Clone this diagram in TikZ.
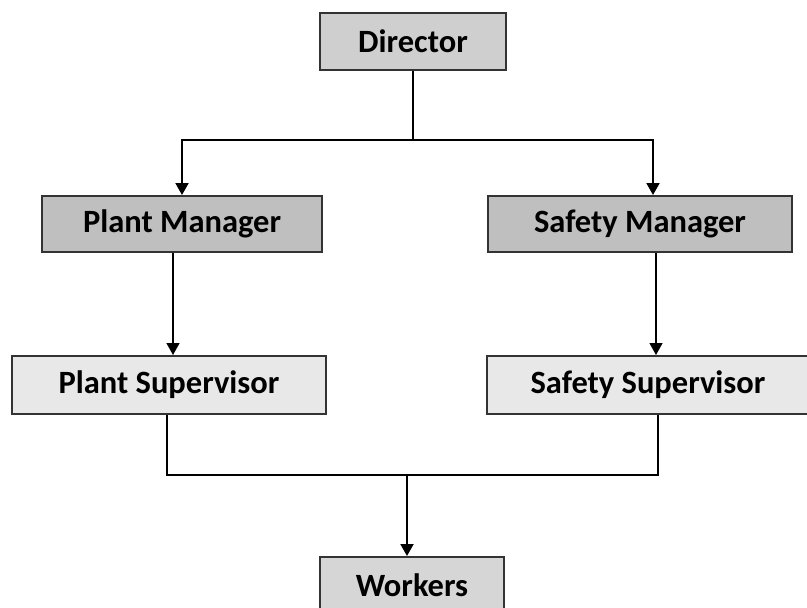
\documentclass[tikz,border=0pt]{standalone}
\usepackage{fontspec}
\setmainfont{Carlito}
\usetikzlibrary{arrows.meta,calc}

\begin{document}
\begin{tikzpicture}[x=1pt,y=-1pt,>={Triangle[length=12pt,width=13pt]},
  box/.style={draw=black!80,line width=2pt,fill=#1,minimum height=57pt,
    inner sep=0pt,font=\fontsize{32.5}{38}\selectfont\bfseries},
  box/.default=black!18,
  link/.style={line width=2pt}]
\clip (0,0) rectangle (807,608);
\useasboundingbox (0,0) rectangle (807,608);
% top
\node[box=black!19,minimum width=186pt] (dir) at (413,41.5) {Director};
% managers
\node[box=black!25,minimum width=280pt,minimum height=56pt] (pm) at (182,224) {Plant Manager};
\node[box=black!25,minimum width=304pt,minimum height=56pt] (sm) at (640,224) {Safety Manager};
% supervisors
\node[box=black!9,minimum width=314pt,minimum height=58pt] (ps) at (169,385) {Plant Supervisor};
\node[box=black!9,minimum width=322pt,minimum height=58pt] (ss) at (648,385) {Safety Supervisor};
% bottom
\node[box=black!16,minimum width=184pt] (wk) at (412,585.5) {Workers};
\coordinate (split) at (413,140);
\coordinate (pmdown) at ($(pm.south)+(-9,0)$);
\coordinate (smdown) at ($(sm.south)+(16,0)$);
\coordinate (jl) at (167,475);
\coordinate (jr) at (658,475);
\coordinate (jm) at (407,475);
\draw[link] (dir.south) -- (split);
\draw[link,->] (split) -| (pm.north);
\draw[link,->] (split) -| ($(sm.north)+(13,0)$);
\draw[link,line width=1.3pt,->] (pmdown) -- (pmdown |- ps.north);
\draw[link,line width=1.3pt,->] (smdown) -- (smdown |- ss.north);
\draw[link] (ps.south -| jl) -- (jl) -- (jr) -- (ss.south -| jr);
\draw[link,->] (jm) -- (wk.north -| jm);
\end{tikzpicture}
\end{document}
